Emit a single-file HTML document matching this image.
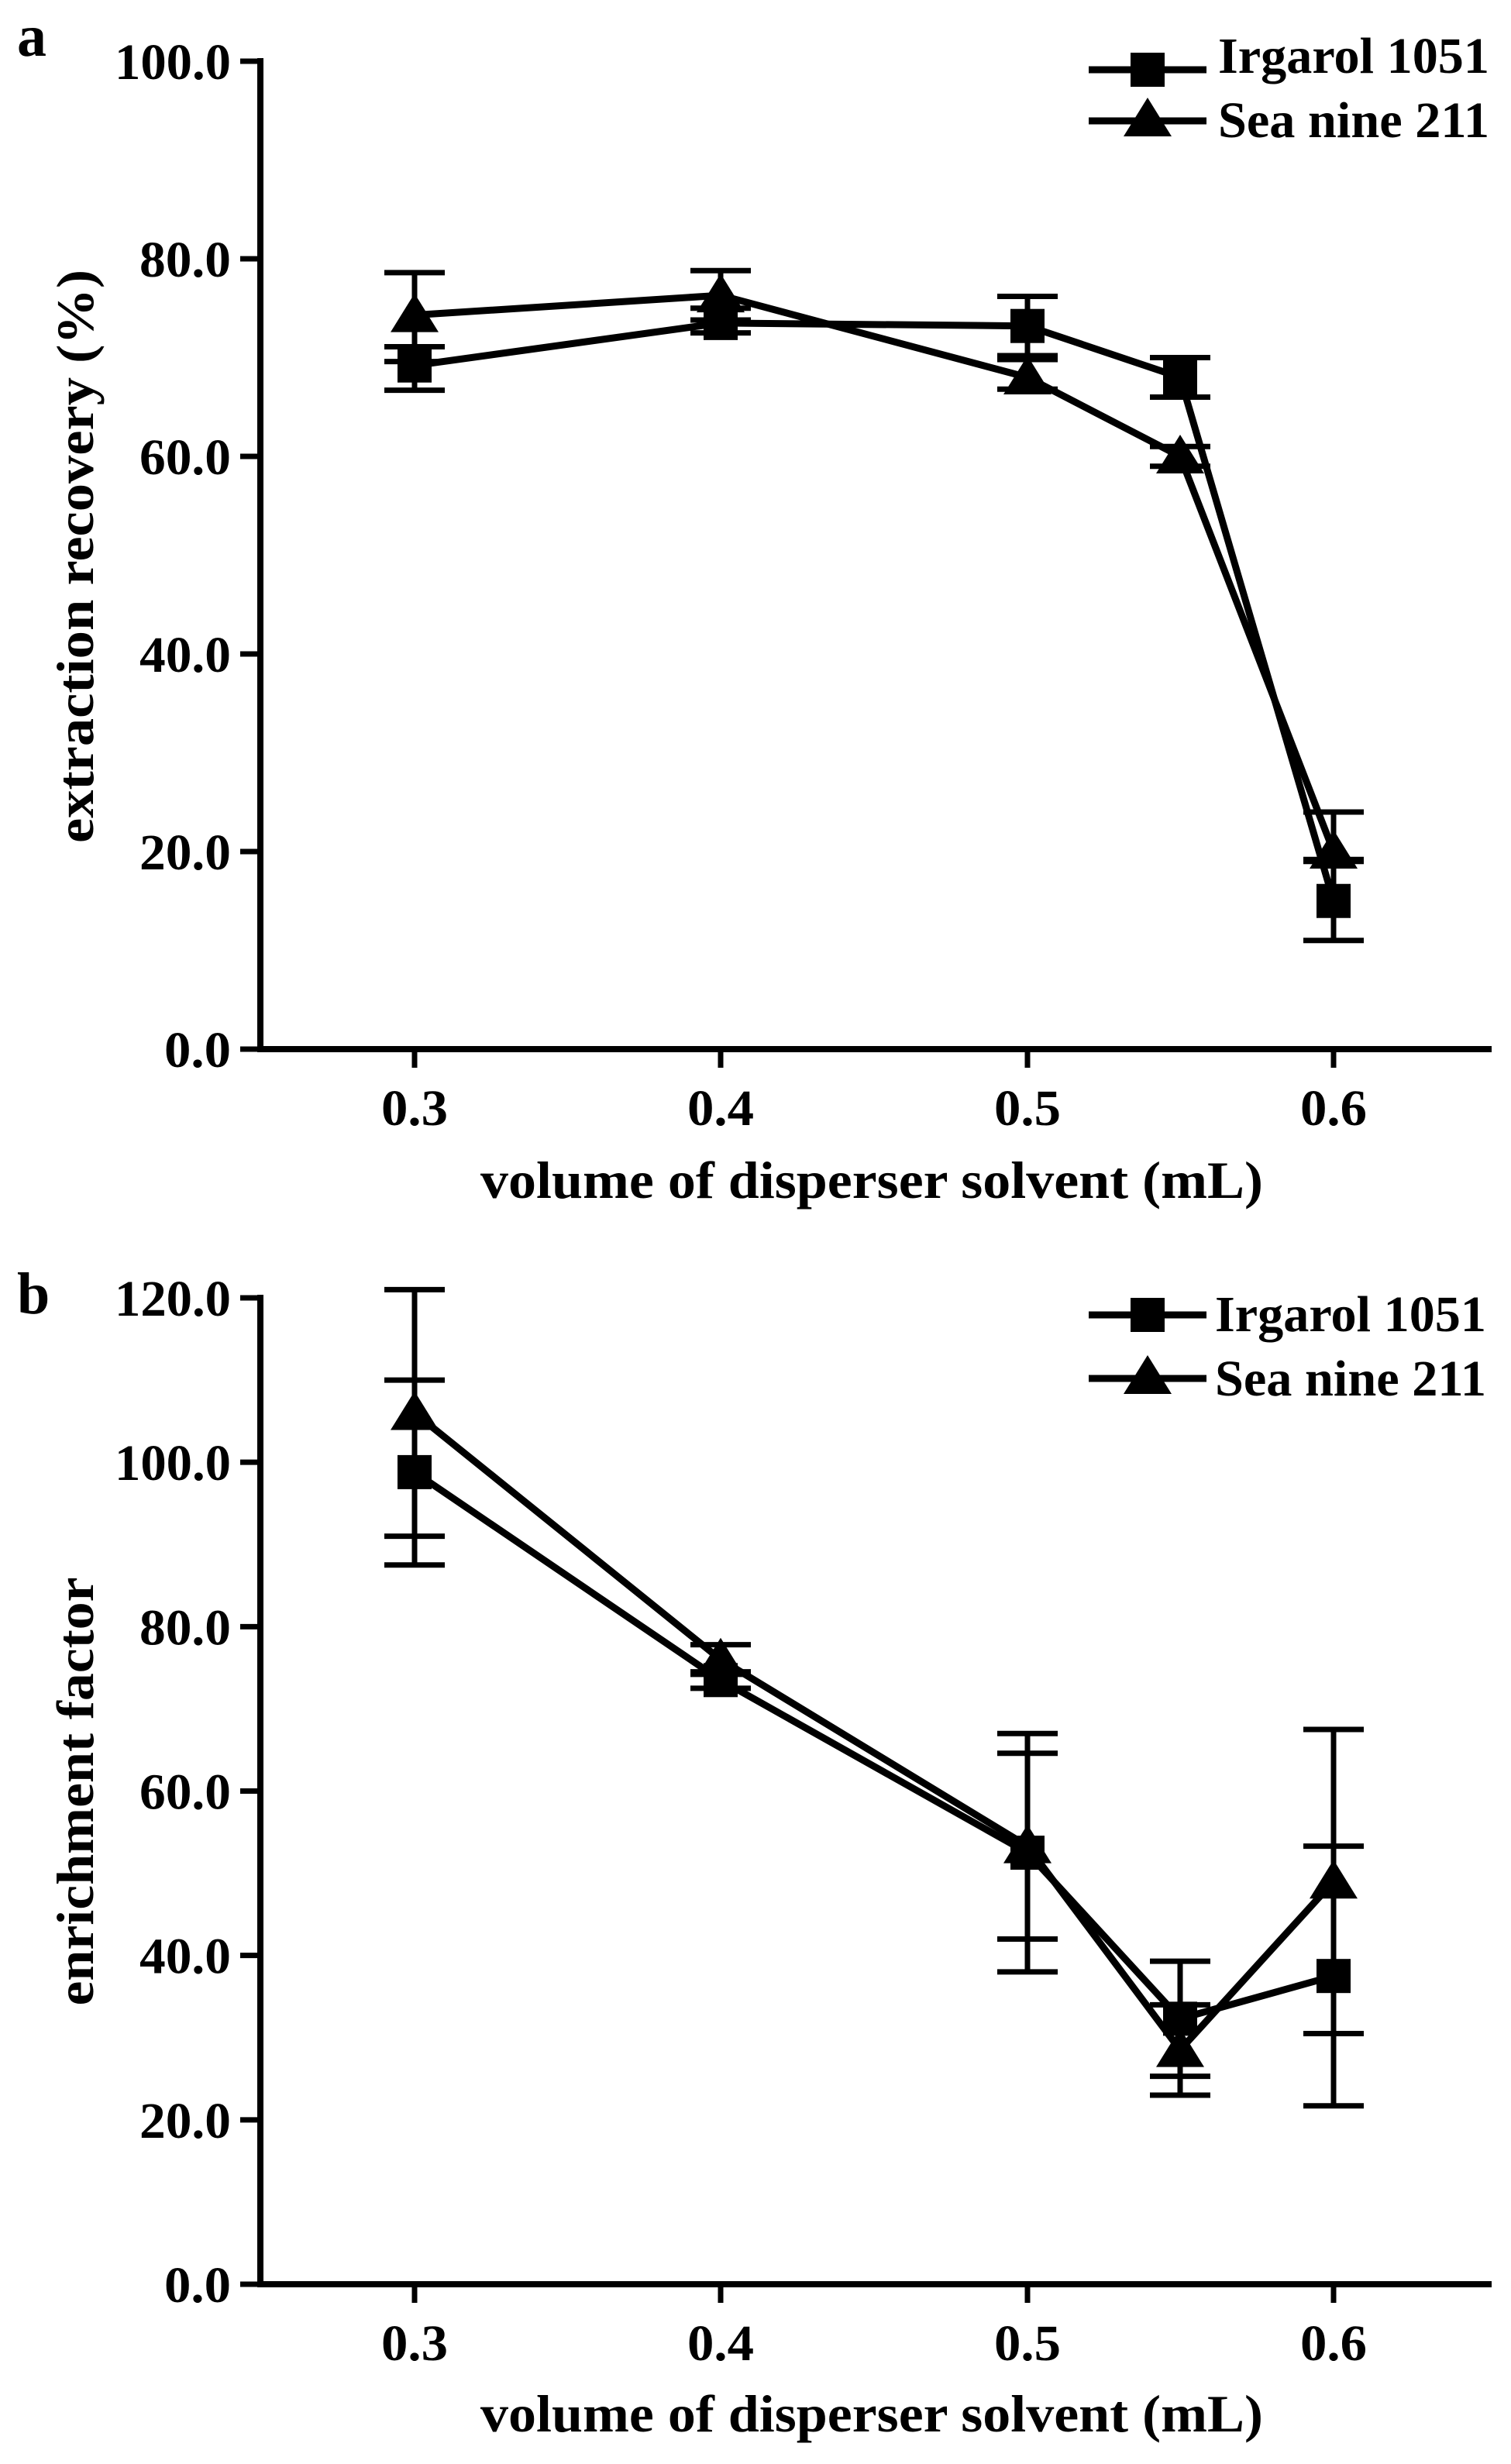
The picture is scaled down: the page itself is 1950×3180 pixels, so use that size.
<!DOCTYPE html>
<html><head><meta charset="utf-8"><style>
html,body{margin:0;padding:0;background:#fff}
svg text{font-family:"Liberation Serif",serif;font-weight:bold;fill:#000}
</style></head><body>
<svg id="s" width="1950" height="3175" viewBox="0 0 1950 3175" xmlns="http://www.w3.org/2000/svg">
<rect width="1950" height="3175" fill="#fff"/>
<g id="g"></g>
<text x="22" y="72" font-size="76">a</text>
<text x="22" y="1695" font-size="76">b</text>
<text x="1125" y="1546" font-size="68" text-anchor="middle" textLength="1010" lengthAdjust="spacingAndGlyphs">volume of disperser solvent (mL)</text>
<text x="1125" y="3138" font-size="68" text-anchor="middle" textLength="1010" lengthAdjust="spacingAndGlyphs">volume of disperser solvent (mL)</text>
<text transform="translate(120,718) rotate(-90)" font-size="68" text-anchor="middle" textLength="740" lengthAdjust="spacingAndGlyphs">extraction recovery (%)</text>
<text transform="translate(120,2312) rotate(-90)" font-size="68" text-anchor="middle" textLength="553" lengthAdjust="spacingAndGlyphs">enrichment factor</text>
<text x="1572" y="94" font-size="66" textLength="350" lengthAdjust="spacingAndGlyphs">Irgarol 1051</text>
<text x="1572" y="177" font-size="66" textLength="350" lengthAdjust="spacingAndGlyphs">Sea nine 211</text>
<text x="1568" y="1718" font-size="66" textLength="350" lengthAdjust="spacingAndGlyphs">Irgarol 1051</text>
<text x="1568" y="1801" font-size="66" textLength="350" lengthAdjust="spacingAndGlyphs">Sea nine 211</text>
</svg>
<script>
var g=document.getElementById('g'),NS='http://www.w3.org/2000/svg';
function el(t,a,txt){var e=document.createElementNS(NS,t);for(var k in a)e.setAttribute(k,a[k]);if(txt!=null)e.textContent=txt;g.appendChild(e);return e;}
var X={0.3:535,0.4:930,0.5:1326,0.55:1523,0.6:1721};
function sq(x,y){el('rect',{x:x-22,y:y-22,width:44,height:44,fill:'#000'});}
function tri(x,y){el('polygon',{points:(x-31)+','+(y+22)+' '+(x+31)+','+(y+22)+' '+x+','+(y-28),fill:'#000'});}
function panel(y0,yTop,max,step,series,legY){
  var ppu=(y0-yTop)/max;
  function Y(v){return y0-v*ppu;}
  el('line',{x1:336,y1:yTop-4,x2:336,y2:y0+4,stroke:'#000','stroke-width':8});
  el('line',{x1:332,y1:y0,x2:1925,y2:y0,stroke:'#000','stroke-width':8});
  for(var v=0;v<=max+0.01;v+=step){
    el('line',{x1:310,y1:Y(v),x2:336,y2:Y(v),stroke:'#000','stroke-width':7});
    var s=v.toFixed(1);
    var L={3:86,4:118,5:150}[s.length];
    el('text',{x:298,y:Y(v)+23,'font-size':66,'text-anchor':'end',textLength:L,lengthAdjust:'spacingAndGlyphs'},s);
  }
  [0.3,0.4,0.5,0.6].forEach(function(k){
    el('line',{x1:X[k],y1:y0,x2:X[k],y2:y0+24,stroke:'#000','stroke-width':7});
    el('text',{x:X[k],y:y0+98,'font-size':66,'text-anchor':'middle',textLength:86,lengthAdjust:'spacingAndGlyphs'},k.toFixed(1));
  });
  series.forEach(function(s){
    var pts=s.d.map(function(p){return X[p[0]]+','+Y(p[1]);}).join(' ');
    el('polyline',{points:pts,fill:'none',stroke:'#000','stroke-width':9,'stroke-linejoin':'miter'});
    s.d.forEach(function(p){
      var x=X[p[0]],lo=Y(p[2]),hi=Y(p[3]);
      el('line',{x1:x,y1:lo,x2:x,y2:hi,stroke:'#000','stroke-width':7});
      el('line',{x1:x-39,y1:lo,x2:x+39,y2:lo,stroke:'#000','stroke-width':7});
      el('line',{x1:x-39,y1:hi,x2:x+39,y2:hi,stroke:'#000','stroke-width':7});
    });
    s.d.forEach(function(p){(s.m=='s'?sq:tri)(X[p[0]],Y(p[1]));});
  });
  el('line',{x1:1405,y1:legY[0],x2:1557,y2:legY[0],stroke:'#000','stroke-width':9});
  sq(1481,legY[0]);
  el('line',{x1:1405,y1:legY[1],x2:1557,y2:legY[1],stroke:'#000','stroke-width':9});
  tri(1481,legY[1]-2);
}
panel(1354,79,100,20,[
 {m:'s',d:[[0.3,69.2,66.7,71.1],[0.4,73.5,72.5,75],[0.5,73.2,70.2,76.2],[0.55,68,66,70],[0.6,15,11,19]]},
 {m:'t',d:[[0.3,74.3,69.6,78.6],[0.4,76.3,73.8,78.8],[0.5,68,66.8,69.8],[0.55,60,59,61],[0.6,20,19.2,24]]}
],[90,156]);
panel(2948,1675,120,20,[
 {m:'s',d:[[0.3,98.8,87.5,110],[0.4,73.5,72.5,74.5],[0.5,52.5,38,67],[0.55,32.3,25.3,39.3],[0.6,37.5,21.7,53.3]]},
 {m:'t',d:[[0.3,106,91,121],[0.4,76,74.2,77.8],[0.5,53.3,42,64.6],[0.55,28.5,23,34],[0.6,49,30.5,67.5]]}
],[1697,1779]);
</script>
</body></html>
